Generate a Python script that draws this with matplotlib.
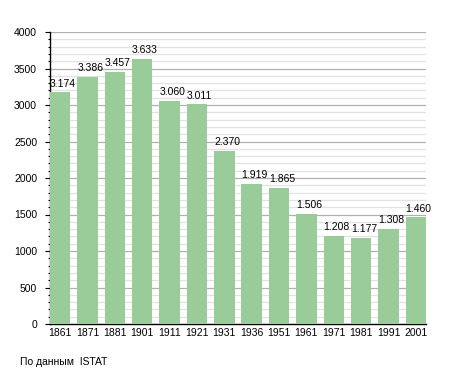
import numpy as np
import matplotlib
matplotlib.use("Agg")
import matplotlib.pyplot as plt
from matplotlib.ticker import MultipleLocator

years = ["1861", "1871", "1881", "1901", "1911", "1921", "1931",
         "1936", "1951", "1961", "1971", "1981", "1991", "2001"]
population = [3174, 3386, 3457, 3633, 3060, 3011, 2370,
              1919, 1865, 1506, 1208, 1177, 1308, 1460]
source_note = "По данным  ISTAT"

plt.rcParams['font.family'] = ['Liberation Sans', 'DejaVu Sans']
plt.rcParams['font.size'] = 7.5

fig = plt.figure(figsize=(4.55, 3.73), dpi=100)
ax = fig.add_axes([50 / 455, 1 - 324 / 373, 376 / 455, 292 / 373])

bar_w = 0.745
x = np.arange(len(years))
ax.bar(x, population, width=bar_w, color="#99cc99", zorder=3)

# value labels, left aligned to the bar like the original
for xi, v in zip(x, population):
    lbl = f"{v:,}".replace(",", ".")
    ax.annotate(lbl, (xi - bar_w / 2, v), xytext=(0, 2.6),
                textcoords="offset points", ha="left", va="bottom",
                fontsize=7.5, color="black", zorder=4)

ax.set_xlim(-bar_w / 2, len(years) - 1 + bar_w / 2)
ax.set_ylim(0, 4000)
ax.set_xticks(x)
ax.set_xticklabels(years)
ax.yaxis.set_major_locator(MultipleLocator(500))
ax.yaxis.set_minor_locator(MultipleLocator(100))

ax.grid(axis="y", which="major", color="#b0b0b0", linewidth=0.9, zorder=1)
ax.grid(axis="y", which="minor", color="#e2e2e2", linewidth=0.9, zorder=0)
ax.set_axisbelow(True)

for s in ["top", "right"]:
    ax.spines[s].set_visible(False)
ax.spines["left"].set_linewidth(1.0)
ax.spines["bottom"].set_linewidth(1.0)

ax.tick_params(axis="x", length=0, pad=3)
ax.tick_params(axis="y", which="major", length=3.3, width=0.8, pad=6)
ax.tick_params(axis="y", which="minor", length=1.6, width=0.8)

fig.text(20 / 455, 1 - 362 / 373, source_note, ha="left", va="center",
         fontsize=7.5)

fig.savefig("out.png", dpi=100)
